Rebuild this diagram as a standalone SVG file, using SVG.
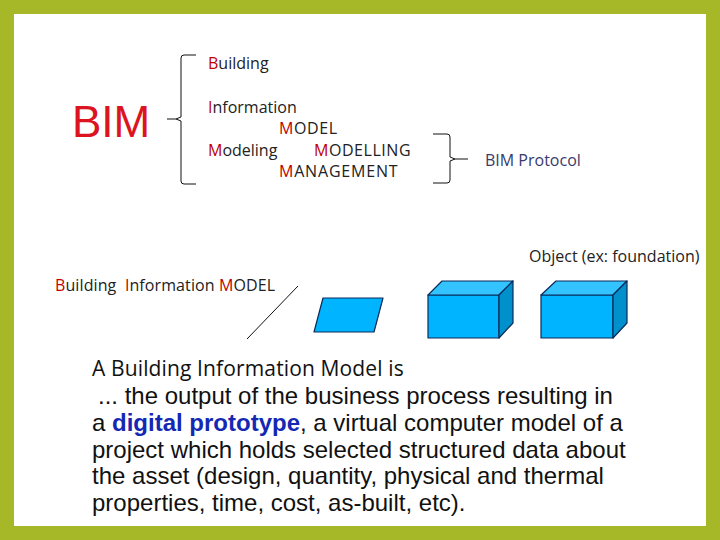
<svg xmlns="http://www.w3.org/2000/svg" width="720" height="540" viewBox="0 0 720 540">
<style>
.t{font-family:"Open Sans","Liberation Sans",sans-serif;font-size:16px;fill:#222}
.r{fill:#c00000}
.a{font-family:"Liberation Sans",Arial,sans-serif;font-size:24px;fill:#111}
.l{fill:none;stroke:#111;stroke-width:1}
.box{fill:#00b4ff;stroke:#0a2a5a;stroke-width:1.2;stroke-linejoin:round}
.top{fill:#33c3ff;stroke:#0a2a5a;stroke-width:1.2;stroke-linejoin:round}
.side{fill:#0090cc;stroke:#0a2a5a;stroke-width:1.2;stroke-linejoin:round}
</style>
<rect width="720" height="540" fill="#a6b727"/>
<rect x="14" y="14" width="692" height="512" fill="#fff"/>
<g id="connectors">
<path class="l" d="M196 55H184Q181 55 181 58V117L176 119H167M176 119L181 121V181Q181 184 184 184H196"/>
<path class="l" d="M433 134H447Q450 134 450 137V157L455 159H468M455 159L450 161V180Q450 183 447 183H433"/>
<path class="l" d="M298 286L247 339"/>
</g>
<g id="bim"><text x="72" y="137" font-family="Liberation Sans,Arial,sans-serif" font-size="44" fill="#dc1420">BIM</text></g>
<g id="terms">
<text class="t" x="208" y="69"><tspan class="r">B</tspan>uilding</text>
<text class="t" x="208" y="113"><tspan class="r">I</tspan>nformation</text>
<text class="t" x="279" y="134" letter-spacing=".6"><tspan class="r">M</tspan>ODEL</text>
<text class="t" x="208" y="156"><tspan class="r">M</tspan>odeling</text>
<text class="t" x="314" y="156" letter-spacing=".55"><tspan class="r">M</tspan>ODELLING</text>
<text class="t" x="279" y="177" letter-spacing=".8"><tspan class="r">M</tspan>ANAGEMENT</text>
</g>
<g id="protocol"><text class="t" x="485" y="166" style="fill:#3a3a6a">BIM Protocol</text></g>
<g id="object"><text class="t" x="529" y="262">Object (ex: foundation)</text></g>
<g id="bim-model"><text class="t" x="55" y="291" xml:space="preserve" letter-spacing=".1"><tspan class="r">B</tspan>uilding  <tspan class="r">I</tspan>nformation <tspan class="r">M</tspan>ODEL</text></g>
<g id="plane"><polygon class="box" points="323,298 383,298 374,332 314,332"/></g>
<g id="cube1">
<rect class="box" x="428" y="295" width="71" height="43"/>
<polygon class="top" points="428,295 442,281 513,281 499,295"/>
<polygon class="side" points="499,295 513,281 513,323 499,338"/>
</g>
<g id="cube2">
<rect class="box" x="541" y="295" width="72" height="43"/>
<polygon class="top" points="541,295 556,281 627,281 613,295"/>
<polygon class="side" points="613,295 627,281 627,323 613,338"/>
</g>
<g id="definition">
<text x="92" y="376" font-family="Open Sans,Liberation Sans,sans-serif" font-size="21" fill="#111" letter-spacing=".13">A Building Information Model is</text>
<text class="a" x="98" y="404">... the output of the business process resulting in</text>
<text class="a" x="92" y="431">a <tspan font-weight="bold" fill="#1428b4">digital prototype</tspan>, a virtual computer model of a</text>
<text class="a" x="92" y="458">project which holds selected structured data about</text>
<text class="a" x="92" y="484">the asset (design, quantity, physical and thermal</text>
<text class="a" x="92" y="511">properties, time, cost, as-built, etc).</text>
</g>
</svg>
